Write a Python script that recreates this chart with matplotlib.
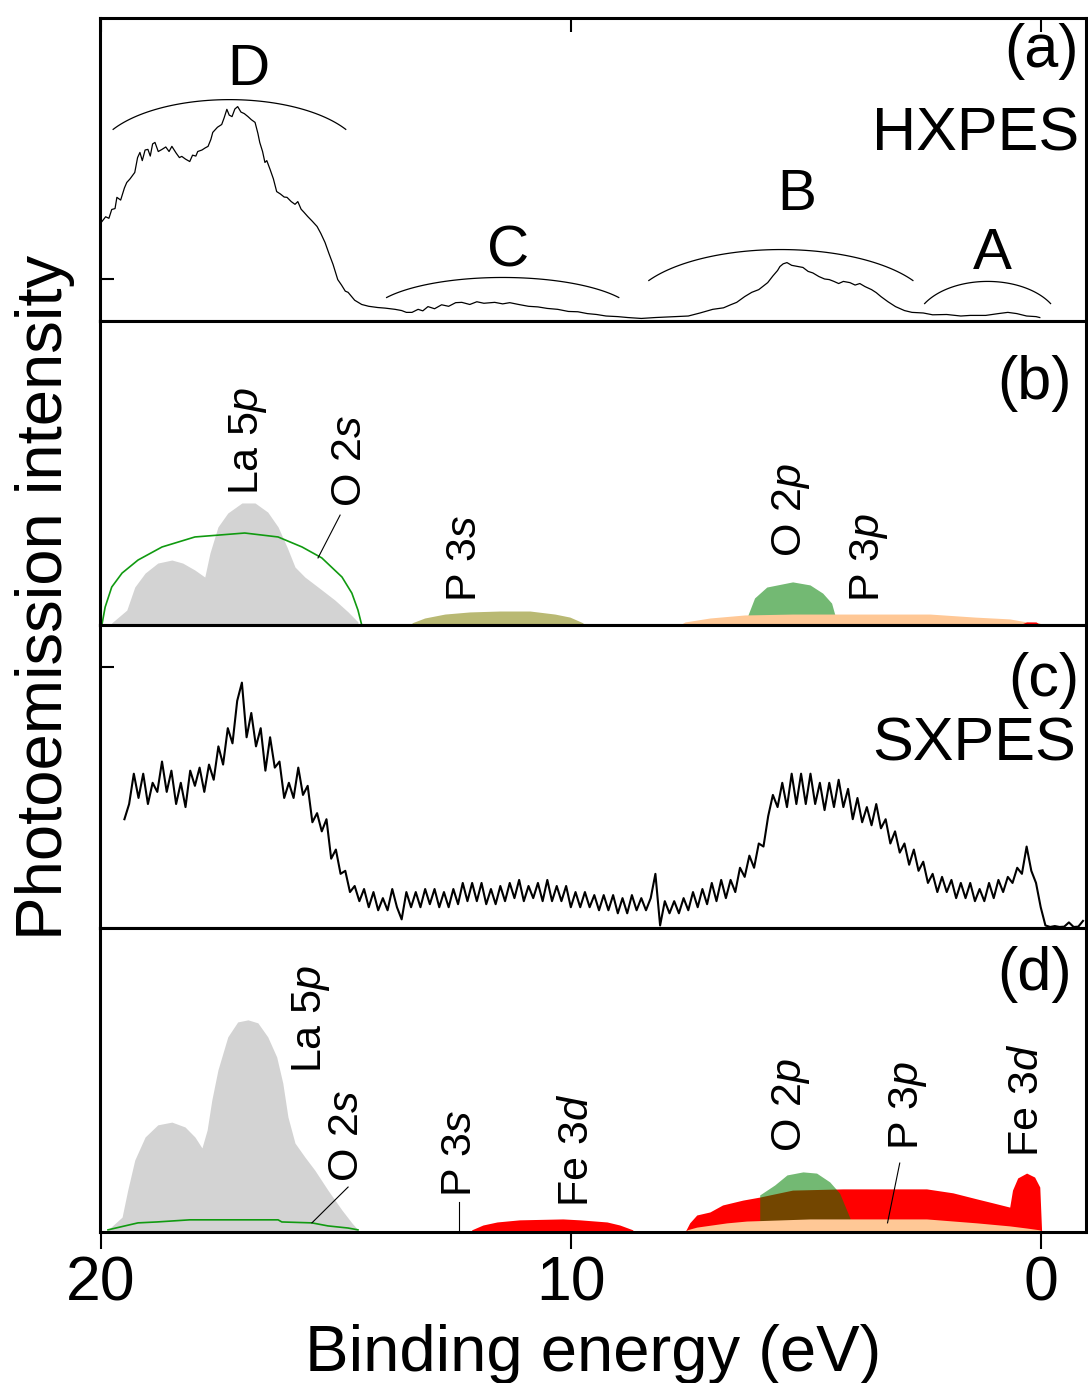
import numpy as np
import matplotlib
matplotlib.use("Agg")
import matplotlib.pyplot as plt

plt.rcParams["font.family"] = ["Liberation Sans", "DejaVu Sans"]
plt.rcParams["mathtext.fontset"] = "custom"
plt.rcParams["mathtext.rm"] = "Liberation Sans"
plt.rcParams["mathtext.it"] = "Liberation Sans:italic"

# (a) HXPES spectrum, binding energy (eV) vs normalised intensity
hx_e = [19.98, 19.90, 19.83, 19.77, 19.70, 19.66, 19.58, 19.50, 19.45, 19.38,
        19.28, 19.22, 19.17, 19.12, 19.06, 19.00, 18.95, 18.90, 18.85, 18.78,
        18.70, 18.62, 18.55, 18.49, 18.40, 18.33, 18.28, 18.20, 18.11, 18.05,
        17.98, 17.94, 17.85, 17.78, 17.72, 17.66, 17.62, 17.52, 17.43, 17.38,
        17.32, 17.27, 17.21, 17.15, 17.09, 17.02, 16.95, 16.87, 16.80, 16.72,
        16.66, 16.62, 16.56, 16.51, 16.47, 16.40, 16.33, 16.26, 16.18, 16.10,
        16.04, 15.95, 15.87, 15.81, 15.74, 15.68, 15.60, 15.50, 15.40, 15.32,
        15.23, 15.15, 15.06, 14.96, 14.88, 14.80, 14.74, 14.60, 14.45, 14.30,
        14.11, 13.95, 13.74, 13.60, 13.50, 13.38, 13.25, 13.15, 13.04, 12.90,
        12.75, 12.60, 12.45, 12.32, 12.15, 12.00, 11.85, 11.62, 11.45, 11.30,
        11.11, 10.90, 10.70, 10.50, 10.28, 10.05, 9.85, 9.65, 9.45, 9.25,
        9.00, 8.79, 8.50, 8.20, 7.79, 7.50, 7.25, 6.98, 6.75, 6.60,
        6.47, 6.30, 6.15, 6.00, 5.81, 5.70, 5.60, 5.55, 5.48, 5.40,
        5.30, 5.20, 5.06, 4.95, 4.85, 4.72, 4.60, 4.50, 4.40, 4.30,
        4.20, 4.06, 3.95, 3.85, 3.74, 3.60, 3.50, 3.40, 3.25, 3.09,
        2.90, 2.74, 2.50, 2.30, 2.00, 1.70, 1.50, 1.17, 0.90, 0.70,
        0.51, 0.30, 0.10, 0.02]
hx_i = [0.329, 0.345, 0.340, 0.369, 0.372, 0.409, 0.400, 0.440, 0.458, 0.470,
        0.491, 0.540, 0.557, 0.530, 0.565, 0.567, 0.545, 0.585, 0.590, 0.560,
        0.567, 0.575, 0.560, 0.577, 0.555, 0.540, 0.544, 0.535, 0.527, 0.548,
        0.545, 0.560, 0.565, 0.572, 0.577, 0.600, 0.623, 0.640, 0.649, 0.670,
        0.699, 0.680, 0.675, 0.700, 0.708, 0.690, 0.685, 0.675, 0.665, 0.656,
        0.620, 0.590, 0.560, 0.524, 0.530, 0.501, 0.470, 0.428, 0.420, 0.410,
        0.409, 0.395, 0.386, 0.395, 0.370, 0.360, 0.346, 0.330, 0.313, 0.290,
        0.260, 0.225, 0.188, 0.138, 0.120, 0.100, 0.096, 0.070, 0.056, 0.050,
        0.046, 0.044, 0.040, 0.036, 0.030, 0.030, 0.040, 0.035, 0.049, 0.042,
        0.055, 0.050, 0.062, 0.063, 0.056, 0.065, 0.060, 0.063, 0.058, 0.062,
        0.056, 0.050, 0.048, 0.043, 0.040, 0.033, 0.032, 0.026, 0.023, 0.018,
        0.016, 0.013, 0.010, 0.013, 0.016, 0.018, 0.028, 0.040, 0.045, 0.055,
        0.063, 0.082, 0.096, 0.105, 0.128, 0.150, 0.168, 0.181, 0.190, 0.194,
        0.185, 0.182, 0.178, 0.165, 0.160, 0.148, 0.140, 0.138, 0.132, 0.125,
        0.132, 0.128, 0.120, 0.125, 0.115, 0.105, 0.095, 0.082, 0.065, 0.049,
        0.036, 0.030, 0.028, 0.022, 0.023, 0.018, 0.020, 0.020, 0.026, 0.030,
        0.026, 0.018, 0.016, 0.013]

# feature brackets in (a): name, left end, right end, end height, top height
bracket_names = ["D", "C", "B", "A"]
bracket_left = [19.74, 13.92, 8.34, 2.47]
bracket_right = [14.79, 8.98, 2.72, -0.21]
bracket_end = [0.633, 0.079, 0.135, 0.059]
bracket_top = [0.731, 0.145, 0.237, 0.132]
letter_pos = [(16.87, 0.83), (11.34, 0.231), (5.19, 0.418), (1.02, 0.221)]

# (b) calculated partial DOS for HXPES
b_la5p_e = [19.77, 19.45, 19.28, 19.06, 18.79, 18.49, 18.26, 18.0, 17.79, 17.68,
            17.51, 17.30, 17.0, 16.72, 16.45, 16.23, 16.04, 15.87, 15.66, 15.38,
            15.02, 14.74, 14.53]
b_la5p_i = [0.007, 0.049, 0.125, 0.171, 0.204, 0.214, 0.204, 0.181, 0.158, 0.237,
            0.323, 0.369, 0.402, 0.402, 0.372, 0.323, 0.257, 0.191, 0.158, 0.125,
            0.082, 0.043, 0.010]
b_o2s_e = [19.98, 19.91, 19.77, 19.55, 19.21, 18.70, 18.0, 16.94, 16.23, 15.72,
           15.30, 14.87, 14.66, 14.53, 14.45]
b_o2s_i = [0.0, 0.059, 0.125, 0.171, 0.214, 0.257, 0.290, 0.303, 0.290, 0.257,
           0.221, 0.158, 0.105, 0.049, 0.0]
b_p3s_e = [13.38, 13.11, 12.68, 12.15, 11.51, 10.87, 10.34, 10.02, 9.74]
b_p3s_i = [0.007, 0.023, 0.036, 0.043, 0.046, 0.046, 0.036, 0.026, 0.007]
b_o2p_e = [6.23, 6.23, 6.09, 5.83, 5.28, 4.91, 4.64, 4.45, 4.38, 4.38]
b_o2p_i = [0.0, 0.033, 0.089, 0.125, 0.142, 0.132, 0.105, 0.072, 0.033, 0.0]
b_p3p_e = [7.68, 7.57, 7.04, 6.30, 5.28, 3.85, 2.36, 1.40, 0.66, 0.30, 0.02]
b_p3p_i = [0.0, 0.010, 0.023, 0.033, 0.036, 0.036, 0.036, 0.026, 0.020, 0.010, 0.007]
b_fe3d_e = [0.40, 0.30, 0.10, 0.0]
b_fe3d_i = [0.004, 0.010, 0.010, 0.0]

# (c) SXPES spectrum, sampled every 0.1 eV from 19.5 eV down to -0.9 eV
sx_i = [0.36, 0.41, 0.51, 0.43, 0.51, 0.41, 0.48, 0.45, 0.55, 0.45,
        0.52, 0.41, 0.48, 0.40, 0.52, 0.47, 0.53, 0.45, 0.54, 0.49,
        0.60, 0.54, 0.66, 0.61, 0.75, 0.81, 0.63, 0.71, 0.60, 0.66,
        0.52, 0.63, 0.53, 0.55, 0.43, 0.48, 0.43, 0.53, 0.44, 0.47,
        0.35, 0.38, 0.32, 0.36, 0.23, 0.26, 0.18, 0.19, 0.12, 0.14,
        0.09, 0.13, 0.07, 0.12, 0.06, 0.10, 0.06, 0.13, 0.07, 0.03,
        0.12, 0.07, 0.12, 0.07, 0.13, 0.08, 0.13, 0.07, 0.12, 0.07,
        0.13, 0.08, 0.15, 0.09, 0.15, 0.09, 0.15, 0.08, 0.13, 0.08,
        0.14, 0.09, 0.15, 0.10, 0.16, 0.09, 0.14, 0.10, 0.15, 0.09,
        0.16, 0.09, 0.14, 0.09, 0.14, 0.07, 0.12, 0.07, 0.12, 0.07,
        0.11, 0.06, 0.11, 0.06, 0.11, 0.05, 0.10, 0.05, 0.11, 0.06,
        0.10, 0.06, 0.10, 0.18, 0.01, 0.09, 0.05, 0.09, 0.05, 0.10,
        0.06, 0.12, 0.07, 0.13, 0.08, 0.15, 0.09, 0.16, 0.10, 0.16,
        0.12, 0.20, 0.17, 0.24, 0.20, 0.28, 0.27, 0.37, 0.44, 0.40,
        0.48, 0.40, 0.51, 0.41, 0.51, 0.41, 0.51, 0.41, 0.48, 0.39,
        0.48, 0.40, 0.49, 0.40, 0.46, 0.36, 0.43, 0.35, 0.40, 0.34,
        0.41, 0.33, 0.36, 0.28, 0.32, 0.25, 0.28, 0.21, 0.26, 0.19,
        0.22, 0.15, 0.18, 0.12, 0.17, 0.12, 0.16, 0.10, 0.15, 0.10,
        0.15, 0.09, 0.13, 0.09, 0.15, 0.10, 0.16, 0.12, 0.17, 0.15,
        0.20, 0.18, 0.27, 0.19, 0.15, 0.07, 0.01, 0.005, 0.008, 0.005,
        0.006, 0.02, 0.005, 0.006, 0.025]
sx_e = np.linspace(19.5, -0.9, len(sx_i))

# (d) calculated partial DOS for SXPES
d_la5p_e = [19.85, 19.55, 19.43, 19.28, 19.06, 18.79, 18.49, 18.21, 18.0, 17.85,
            17.74, 17.64, 17.51, 17.30, 17.09, 16.87, 16.66, 16.45, 16.26, 16.13,
            16.02, 15.87, 15.66, 15.45, 15.17, 14.87, 14.66, 14.53]
d_la5p_i = [0.007, 0.049, 0.138, 0.237, 0.313, 0.353, 0.362, 0.346, 0.313, 0.277,
            0.336, 0.435, 0.534, 0.643, 0.692, 0.699, 0.689, 0.643, 0.577, 0.491,
            0.379, 0.293, 0.247, 0.204, 0.138, 0.072, 0.030, 0.007]
d_o2s_e = [19.85, 19.49, 19.21, 18.81, 18.11, 16.23, 16.15, 15.51, 15.17, 14.74, 14.53]
d_o2s_i = [0.007, 0.020, 0.030, 0.033, 0.040, 0.040, 0.033, 0.030, 0.020, 0.013, 0.007]
d_fe3d_lo_e = [12.11, 11.87, 11.57, 11.09, 10.17, 9.81, 9.23, 8.96, 8.68]
d_fe3d_lo_i = [0.007, 0.023, 0.033, 0.040, 0.043, 0.040, 0.033, 0.023, 0.007]
d_fe3d_e = [7.57, 7.47, 7.32, 7.04, 6.77, 6.34, 5.98, 5.77, 5.28, 4.21,
            2.43, 1.87, 1.36, 1.02, 0.66, 0.60, 0.49, 0.30, 0.13, 0.02, -0.02]
d_fe3d_i = [0.0, 0.030, 0.056, 0.066, 0.089, 0.105, 0.115, 0.122, 0.138, 0.142,
            0.142, 0.129, 0.109, 0.096, 0.082, 0.138, 0.178, 0.194, 0.181, 0.148, 0.0]
d_o2p_e = [5.98, 5.98, 5.66, 5.40, 5.06, 4.77, 4.49, 4.28, 4.06, 4.02]
d_o2p_i = [0.0, 0.122, 0.155, 0.188, 0.198, 0.194, 0.165, 0.128, 0.046, 0.0]
d_p3p_e = [7.53, 7.32, 6.68, 6.26, 4.91, 2.43, 1.36, 0.66, 0.30, 0.02, -0.01]
d_p3p_i = [0.007, 0.016, 0.030, 0.036, 0.043, 0.043, 0.030, 0.020, 0.013, 0.007, 0.0]

gray = "#d3d3d3"
peach = "#ffc896"
lab = 31

fig, axes = plt.subplots(4, 1, sharex=True, figsize=(10.88, 13.83), dpi=100)
fig.subplots_adjust(left=0.0919, right=0.998, top=0.987, bottom=0.1092, hspace=0)

for ax in axes:
    ax.set_ylim(0, 1)
    ax.set_xlim(20.02, -0.96)
    for sp in ax.spines.values():
        sp.set_linewidth(2.2)
    ax.set_yticks([])
    ax.tick_params(axis="x", bottom=False, labelbottom=False)

axes[3].set_xticks([20, 10, 0])
axes[3].set_xticklabels(["20", "10", "0"])

# (a)
ax = axes[0]
ax.plot(hx_e, hx_i, color="k", lw=0.9)
t = np.radians(np.linspace(30, 150, 60))
for name, el, er, ve, vt, pos in zip(bracket_names, bracket_left, bracket_right,
                                     bracket_end, bracket_top, letter_pos):
    # elliptical bracket spanning the feature
    a = (el - er) / 2 / np.cos(np.radians(30))
    b = 2 * (vt - ve)
    ax.plot((el + er) / 2 + a * np.cos(t), vt - b + b * np.sin(t), color="k", lw=0.9)
    ax.text(pos[0], pos[1], name, fontsize=42, ha="center", va="center")
ax.tick_params(axis="x", top=True, direction="in", length=10, width=1.5)
ax.set_yticks([0.14])
ax.tick_params(axis="y", direction="in", length=10, width=1.5, labelleft=False)
ax.text(0.993, 0.89, "(a)", transform=ax.transAxes, fontsize=44, ha="right", va="center")
ax.text(0.993, 0.616, "HXPES", transform=ax.transAxes, fontsize=44, ha="right", va="center")

# (b)
ax = axes[1]
ax.fill_between(b_la5p_e, 0, b_la5p_i, color=gray, lw=0)
ax.plot(b_o2s_e, b_o2s_i, color="#109a10", lw=1.2)
ax.fill_between(b_p3s_e, 0, b_p3s_i, color="#808000", alpha=0.55, lw=0)
ax.fill_between(b_o2p_e, 0, b_o2p_i, color="#008000", alpha=0.55, lw=0)
ax.fill_between(b_p3p_e, 0, b_p3p_i, color=peach, lw=0)
ax.fill_between(b_fe3d_e, 0, b_fe3d_i, color="red", lw=0)
ax.plot([15.38, 14.91], [0.221, 0.362], color="k", lw=0.8)
ax.text(16.87, 0.428, "La 5$\\mathit{p}$", rotation=90, fontsize=lab, ha="center", va="bottom")
ax.text(14.70, 0.389, "O 2$\\mathit{s}$", rotation=90, fontsize=lab, ha="center", va="bottom")
ax.text(12.26, 0.076, "P 3$\\mathit{s}$", rotation=90, fontsize=lab, ha="center", va="bottom")
ax.text(5.32, 0.224, "O 2$\\mathit{p}$", rotation=90, fontsize=lab, ha="center", va="bottom")
ax.text(3.66, 0.076, "P 3$\\mathit{p}$", rotation=90, fontsize=lab, ha="center", va="bottom")
ax.text(0.986, 0.797, "(b)", transform=ax.transAxes, fontsize=44, ha="right", va="center")

# (c)
ax = axes[2]
ax.plot(sx_e, sx_i, color="k", lw=1.5)
ax.set_yticks([0.86])
ax.tick_params(axis="y", direction="in", length=10, width=1.5, labelleft=False)
ax.text(0.993, 0.817, "(c)", transform=ax.transAxes, fontsize=44, ha="right", va="center")
ax.text(0.990, 0.603, "SXPES", transform=ax.transAxes, fontsize=44, ha="right", va="center")

# (d)
ax = axes[3]
ax.fill_between(d_la5p_e, 0, d_la5p_i, color=gray, lw=0)
ax.plot(d_o2s_e, d_o2s_i, color="#109a10", lw=1.2)
ax.fill_between(d_fe3d_lo_e, 0, d_fe3d_lo_i, color="red", lw=0)
ax.fill_between(d_fe3d_e, 0, d_fe3d_i, color="red", lw=0)
ax.fill_between(d_o2p_e, 0, d_o2p_i, color="#008000", alpha=0.55, lw=0)
ax.fill_between(d_p3p_e, 0, d_p3p_i, color=peach, lw=0)
ax.plot([15.51, 14.74], [0.030, 0.148], color="k", lw=0.8)
ax.plot([12.38, 12.38], [0.0, 0.10], color="k", lw=0.8)
ax.plot([3.0, 3.26], [0.227, 0.030], color="k", lw=0.8)
ax.text(15.53, 0.524, "La 5$\\mathit{p}$", rotation=90, fontsize=lab, ha="center", va="bottom")
ax.text(14.77, 0.165, "O 2$\\mathit{s}$", rotation=90, fontsize=lab, ha="center", va="bottom")
ax.text(12.36, 0.115, "P 3$\\mathit{s}$", rotation=90, fontsize=lab, ha="center", va="bottom")
ax.text(9.87, 0.082, "Fe 3$\\mathit{d}$", rotation=90, fontsize=lab, ha="center", va="bottom")
ax.text(5.32, 0.264, "O 2$\\mathit{p}$", rotation=90, fontsize=lab, ha="center", va="bottom")
ax.text(2.83, 0.270, "P 3$\\mathit{p}$", rotation=90, fontsize=lab, ha="center", va="bottom")
ax.text(0.30, 0.247, "Fe 3$\\mathit{d}$", rotation=90, fontsize=lab, ha="center", va="bottom")
ax.text(0.986, 0.847, "(d)", transform=ax.transAxes, fontsize=44, ha="right", va="center")
ax.tick_params(axis="x", bottom=True, labelbottom=True, direction="out",
               length=12, width=1.5, labelsize=45, pad=4)
ax.set_xlabel("Binding energy (eV)", fontsize=47, labelpad=8)

fig.text(0.041, 0.568, "Photoemission intensity", rotation=90, fontsize=47,
         ha="center", va="center")

fig.savefig("out.png", dpi=100)
